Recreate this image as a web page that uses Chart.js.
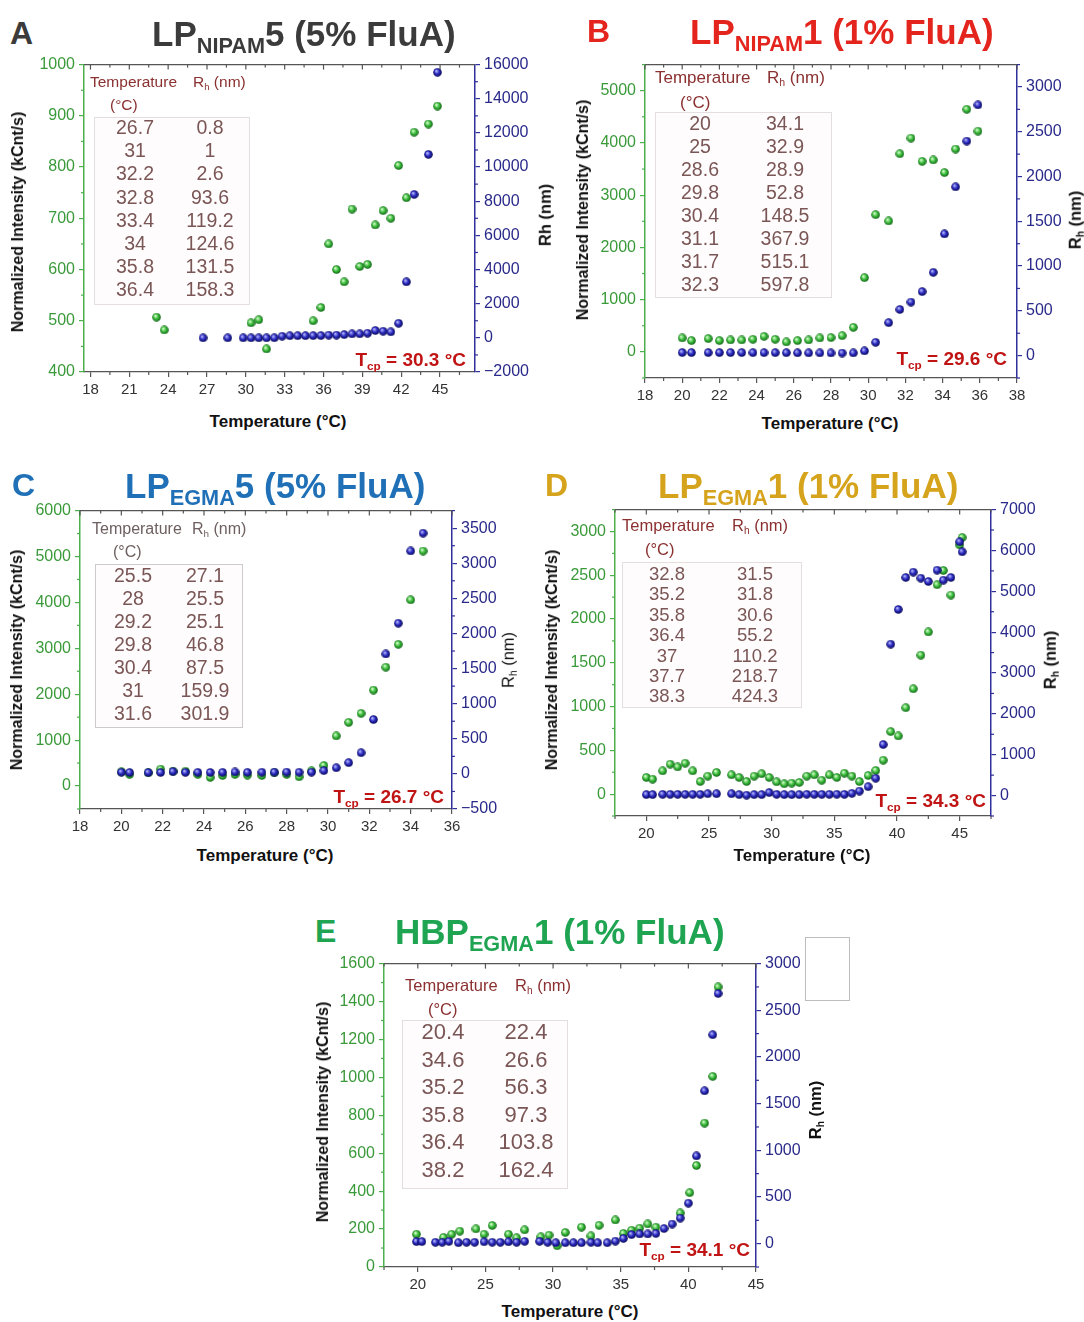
<!DOCTYPE html>
<html>
<head>
<meta charset="utf-8">
<script src="https://cdn.jsdelivr.net/npm/chart.js@4.4.1/dist/chart.umd.min.js"></script>
<style>
  body { margin: 0; background: #fff; width: 1084px; height: 1322px; position: relative; overflow: hidden;
         font-family: "Liberation Sans", Arial, sans-serif; }
  canvas { position: absolute; }
  .t { position: absolute; white-space: nowrap; line-height: 1; }
  .s { font-size: 0.62em; position: relative; top: 0.3em; }
  .tb { position: absolute; border: 1px solid #e4dede; background: #fefcfc; }
</style>
</head>
<body>
<script>
// ---- panel A : LP-NIPAM5 ----
const aTempI = [23.1, 23.7, 30.4, 31.0, 31.6, 35.2, 35.8, 36.4, 37.0, 37.6, 38.2, 38.8, 39.4, 40.0, 40.6, 41.2, 41.8, 42.4, 43.0, 44.1, 44.8];
const aInt   = [507, 482, 496, 502, 445, 500, 526, 650, 600, 576, 718, 606, 610, 687, 715, 700, 803, 740, 868, 884, 919];
const aTempR = [26.7, 28.6, 29.8, 30.4, 31.0, 31.6, 32.2, 32.8, 33.4, 34.0, 34.6, 35.2, 35.8, 36.4, 37.0, 37.6, 38.2, 38.8, 39.4, 40.0, 40.6, 41.2, 41.8, 42.4, 43.0, 44.1, 44.8];
const aRh    = [0.8, 1, 1, 1, 1, 1, 2.6, 93.6, 119.2, 124.6, 125, 128, 131.5, 158.3, 160, 190, 230, 235, 270, 427, 388, 350, 854, 3280, 8400, 10740, 15550];
const aXTicks  = [18, 21, 24, 27, 30, 33, 36, 39, 42, 45];
const aYLTicks = [400, 500, 600, 700, 800, 900, 1000];
const aYRTicks = [-2000, 0, 2000, 4000, 6000, 8000, 10000, 12000, 14000, 16000];
const aTabT = ['26.7', '31', '32.2', '32.8', '33.4', '34', '35.8', '36.4'];
const aTabR = ['0.8', '1', '2.6', '93.6', '119.2', '124.6', '131.5', '158.3'];

// ---- panel B : LP-NIPAM1 ----
const bTemp = [20, 20.5, 21.4, 22, 22.6, 23.2, 23.8, 24.4, 25, 25.6, 26.2, 26.8, 27.4, 28, 28.6, 29.2, 29.8, 30.4, 31.1, 31.7, 32.3, 32.9, 33.5, 34.1, 34.7, 35.3, 35.9];
const bInt  = [266, 216, 254, 216, 228, 228, 241, 298, 241, 190, 216, 228, 266, 273, 311, 470, 1421, 2627, 2506, 3794, 4093, 3648, 3674, 3433, 3883, 4645, 4226];
const bRh   = [34.1, 34, 34, 33.5, 33.5, 33.5, 33, 33, 32.9, 32, 31, 30, 30, 29.5, 28.9, 30, 52.8, 148.5, 367.9, 515.1, 597.8, 715, 930, 1359, 1885, 2396, 2800];
const bXTicks  = [18, 20, 22, 24, 26, 28, 30, 32, 34, 36, 38];
const bYLTicks = [0, 1000, 2000, 3000, 4000, 5000];
const bYRTicks = [0, 500, 1000, 1500, 2000, 2500, 3000];
const bTabT = ['20', '25', '28.6', '29.8', '30.4', '31.1', '31.7', '32.3'];
const bTabR = ['34.1', '32.9', '28.9', '52.8', '148.5', '367.9', '515.1', '597.8'];

// ---- panel C : LP-EGMA5 ----
const cTemp = [20, 20.4, 21.3, 21.9, 22.5, 23.1, 23.7, 24.3, 24.9, 25.5, 26.1, 26.8, 27.4, 28, 28.6, 29.2, 29.8, 30.4, 31, 31.6, 32.2, 32.8, 33.4, 34, 34.6];
const cInt  = [311, 253, 289, 369, 325, 325, 253, 188, 231, 253, 239, 231, 289, 253, 202, 333, 448, 1092, 1388, 1583, 2090, 2589, 3087, 4056, 5119];
const cRh   = [24, 19, 19, 20, 33, 22, 22, 20, 22, 27.1, 22, 24, 25, 25.5, 24, 25.1, 46.8, 87.5, 159.9, 301.9, 774, 1708, 2146, 3175, 3429];
const cXTicks  = [18, 20, 22, 24, 26, 28, 30, 32, 34, 36];
const cYLTicks = [0, 1000, 2000, 3000, 4000, 5000, 6000];
const cYRTicks = [-500, 0, 500, 1000, 1500, 2000, 2500, 3000, 3500];
const cTabT = ['25.5', '28', '29.2', '29.8', '30.4', '31', '31.6'];
const cTabR = ['27.1', '25.5', '25.1', '46.8', '87.5', '159.9', '301.9'];

// ---- panel D : LP-EGMA1 ----
const dTemp = [20, 20.5, 21.3, 21.9, 22.5, 23.1, 23.7, 24.3, 24.9, 25.6, 26.8, 27.4, 28, 28.6, 29.2, 29.8, 30.4, 31, 31.6, 32.2,
               32.8, 33.4, 34, 34.6, 35.2, 35.8, 36.4, 37, 37.7, 38.3, 38.9, 39.5, 40.1, 40.7, 41.3, 41.9, 42.5, 43.2, 43.7, 44.3, 45.0, 45.2];
const dInt  = [190, 171, 266, 342, 311, 353, 266, 144, 205, 247, 220, 190, 144, 205, 232, 190, 140, 118, 125, 133,
               205, 220, 159, 220, 190, 239, 205, 144, 213, 270, 387, 714, 664, 987, 1203, 1587, 1853, 2392, 2555, 2274, 2847, 2931];
const dRh   = [24, 24, 30, 30, 30, 30, 30, 30, 45, 45, 45, 24, 10, 24, 24, 73, 30, 24, 24, 24,
               31.5, 30, 30, 30, 31.8, 30.6, 55.2, 110.2, 218.7, 424.3, 1249, 3706, 4555, 5339, 5469, 5322, 5241, 5518, 5273, 5339, 6212, 5967];
const dXTicks  = [20, 25, 30, 35, 40, 45];
const dYLTicks = [0, 500, 1000, 1500, 2000, 2500, 3000];
const dYRTicks = [0, 1000, 2000, 3000, 4000, 5000, 6000, 7000];
const dTabT = ['32.8', '35.2', '35.8', '36.4', '37', '37.7', '38.3'];
const dTabR = ['31.5', '31.8', '30.6', '55.2', '110.2', '218.7', '424.3'];

// ---- panel E : HBP-EGMA1 ----
const eTempI = [19.9, 21.9, 22.5, 23.1, 24.3, 24.9, 25.5, 26.7, 27.3, 27.9, 29.1, 29.7, 30.3, 30.9, 32.1, 32.8, 33.4, 34.6, 35.2, 35.8,
                36.4, 37.0, 37.6, 39.4, 40.1, 40.6, 41.2, 41.8, 42.2];
const eInt   = [173, 156, 173, 189, 201, 173, 219, 173, 154, 196, 159, 168, 112, 182, 210, 164, 220, 248, 177, 194,
                205, 227, 210, 285, 392, 535, 759, 1005, 1477];
const eTempR = [19.9, 20.3, 21.3, 21.8, 22.3, 23.0, 23.6, 24.2, 24.9, 25.5, 26.1, 26.7, 27.3, 27.9, 29.0, 29.6, 30.2, 30.9, 31.5, 32.1,
                32.8, 33.3, 34.0, 34.6, 35.2, 35.8, 36.4, 37.0, 37.6, 38.2, 38.8, 39.4, 40.0, 40.6, 41.2, 41.8, 42.2];
const eRh    = [22.4, 22, 15, 15, 25, 10, 15, 15, 20, 15, 15, 20, 15, 25, 25, 15, 10, 10, 10, 10,
                15, 10, 10, 26.6, 56.3, 97.3, 103.8, 104, 110, 162.4, 210, 274, 434, 940, 1637, 2238, 2680];
const eXTicks  = [20, 25, 30, 35, 40, 45];
const eYLTicks = [0, 200, 400, 600, 800, 1000, 1200, 1400, 1600];
const eYRTicks = [0, 500, 1000, 1500, 2000, 2500, 3000];
const eTabT = ['20.4', '34.6', '35.2', '35.8', '36.4', '38.2'];
const eTabR = ['22.4', '26.6', '56.3', '97.3', '103.8', '162.4'];

const FF = '"Liberation Sans", Arial, sans-serif';
const GREEN_AX = '#4caf4c', GREEN_LAB = '#3a9a3a';
const NAVY_AX = '#30309c', NAVY_LAB = '#29298a';
const LW = 70, RW = 75, PT = 12, XH = 32;

function ball(c0, c1, c2) {
  const cv = document.createElement('canvas');
  cv.width = cv.height = 9;
  const g = cv.getContext('2d');
  const gr = g.createRadialGradient(3.2, 3.0, 0.3, 4.5, 4.5, 4.6);
  gr.addColorStop(0, c0); gr.addColorStop(0.5, c1); gr.addColorStop(1, c2);
  g.fillStyle = gr;
  g.beginPath(); g.arc(4.5, 4.5, 4.3, 0, Math.PI * 2); g.fill();
  return cv;
}
const greenBall = ball('#dcffd2', '#3dbd3d', '#0a5a10');
const blueBall = ball('#babaff', '#2a2ac0', '#06064d');

const fmt = v => String(v).replace('-', '\u2212');

// top frame line + minor ticks
const frame = {
  id: 'frame',
  afterDraw(ch) {
    const c = ch.ctx, a = ch.chartArea, sc = ch.scales;
    const seg = (x1, y1, x2, y2) => { c.beginPath(); c.moveTo(x1, y1); c.lineTo(x2, y2); c.stroke(); };
    const mids = s => {
      const v = s.ticks.map(t => t.value), st = v[1] - v[0], out = [];
      for (let i = -2; i < 80; i++) {
        const k = v[0] + i * st / 2;
        if (k < s.min - 1e-6 || k > s.max + 1e-6) continue;
        out.push([k, i % 2 === 0]);
      }
      return out;
    };
    c.save();
    c.lineWidth = 1.2;
    c.strokeStyle = '#555';
    seg(a.left, a.top, a.right, a.top);
    mids(sc.x).forEach(([v, major]) => {
      const p = sc.x.getPixelForValue(v);
      seg(p, a.top, p, a.top + (major ? 5 : 3));
      if (!major) seg(p, a.bottom, p, a.bottom + 3);
    });
    c.strokeStyle = GREEN_AX;
    mids(sc.yL).forEach(([v, major]) => {
      if (major) return;
      const p = sc.yL.getPixelForValue(v);
      seg(a.left, p, a.left - 3, p);
    });
    c.strokeStyle = NAVY_AX;
    mids(sc.yR).forEach(([v, major]) => {
      if (major) return;
      const p = sc.yR.getPixelForValue(v);
      seg(a.right, p, a.right + 3, p);
    });
    c.restore();
  }
};

function yScale(pos, min, max, ticks, col, lab, w) {
  return {
    type: 'linear', position: pos, min: min, max: max,
    afterBuildTicks: s => { s.ticks = ticks.map(v => ({ value: v })); },
    afterFit: s => { s.width = w; },
    ticks: { color: lab, font: { size: 16, family: FF }, padding: 4, autoSkip: false, callback: fmt },
    grid: { drawOnChartArea: false, tickLength: 5, color: col, lineWidth: 1.2 },
    border: { color: col, width: 1.5 }
  };
}

function makeChart(o) {
  const [l, t, r, b] = o.rect;
  const cv = document.createElement('canvas');
  cv.width = r - l + LW + RW;
  cv.height = b - t + PT + XH;
  cv.style.left = (l - LW) + 'px';
  cv.style.top = (t - PT) + 'px';
  document.body.appendChild(cv);
  new Chart(cv, {
    type: 'scatter',
    data: {
      datasets: [
        { data: o.tR.map((x, i) => ({ x: x, y: o.rh[i] })), yAxisID: 'yR', pointStyle: blueBall, pointRadius: 4.5, order: 0 },
        { data: o.tI.map((x, i) => ({ x: x, y: o.iv[i] })), yAxisID: 'yL', pointStyle: greenBall, pointRadius: 4.5, order: 1 }
      ]
    },
    options: {
      responsive: false, animation: false, devicePixelRatio: 1,
      layout: { padding: { top: PT, left: 0, right: 0, bottom: 0 } },
      plugins: { legend: { display: false }, tooltip: { enabled: false } },
      scales: {
        x: {
          type: 'linear', position: 'bottom', min: o.x[0], max: o.x[1],
          afterBuildTicks: s => { s.ticks = o.xt.map(v => ({ value: v })); },
          afterFit: s => { s.height = XH; },
          ticks: { color: '#333', font: { size: 15, family: FF }, padding: 4, autoSkip: false, maxRotation: 0 },
          grid: { drawOnChartArea: false, tickLength: 5, color: '#555', lineWidth: 1.2 },
          border: { color: '#555', width: 1.2 }
        },
        yL: yScale('left', o.yl[0], o.yl[1], o.ylt, GREEN_AX, GREEN_LAB, LW),
        yR: yScale('right', o.yr[0], o.yr[1], o.yrt, NAVY_AX, NAVY_LAB, RW)
      }
    },
    plugins: [frame]
  });
}

function put(html, x, y, css, align) {
  const d = document.createElement('div');
  d.className = 't';
  d.innerHTML = html;
  d.style.cssText = css + ';left:' + x + 'px;top:' + y + 'px';
  const tx = align === 'c' ? '-50%' : align === 'r' ? '-100%' : '0';
  d.style.transform = 'translate(' + tx + ',-50%)';
  document.body.appendChild(d);
  return d;
}
function vput(html, x, y, css) {
  const d = put(html, x, y, css, 'c');
  d.style.transform = 'translate(-50%,-50%) rotate(-90deg)';
  return d;
}
function box(l, t, w, h, css) {
  const d = document.createElement('div');
  d.className = 'tb';
  d.style.cssText = 'left:' + l + 'px;top:' + t + 'px;width:' + w + 'px;height:' + h + 'px;' + (css || '');
  document.body.appendChild(d);
}

function decorate(p) {
  put(p.letter, p.lx, p.ty, 'font-weight:bold;font-size:32px;color:' + p.col);
  put(p.title, p.tx, p.ty, 'font-weight:bold;font-size:35px;color:' + p.col);
  vput('Normalized Intensity (kCnt/s)', p.yt[0], p.yt[1], 'font-weight:bold;font-size:16px;color:#111');
  vput(p.rlab, p.rt[0], p.rt[1], 'font-weight:' + (p.rbold ? 'bold' : 'normal') + ';font-size:16.5px;color:#111');
  put('Temperature (°C)', p.xt[0], p.xt[1], 'font-weight:bold;font-size:17px;color:#111', 'c');
  put('T<span class=s>cp</span> = ' + p.tcp + ' °C', p.tc[0], p.tc[1], 'font-weight:bold;font-size:19px;color:#c01414', 'r');
  // inset table
  const tb = p.tab;
  box(tb.box[0], tb.box[1], tb.box[2], tb.box[3], tb.bcss);
  const hc = 'font-size:' + tb.hs + 'px;color:' + tb.hcol;
  put('Temperature', tb.h[0], tb.h[1], hc);
  put('R<span class=s>h</span> (nm)', tb.h[2], tb.h[1], hc);
  put('(°C)', tb.u[0], tb.u[1], hc);
  const rc = 'font-size:' + tb.fs + 'px;color:#7b5656';
  tb.T.forEach((v, i) => {
    const y = tb.y0 + i * tb.dy;
    put(v, tb.c[0], y, rc, 'c');
    put(tb.R[i], tb.c[1], y, rc, 'c');
  });
}

// ---- A ----
makeChart({ rect: [84, 63, 475, 372], x: [17.5, 47.7], xt: aXTicks, yl: [400, 1000], ylt: aYLTicks, yr: [-2000, 16000], yrt: aYRTicks,
            tI: aTempI, iv: aInt, tR: aTempR, rh: aRh });
decorate({ letter: 'A', lx: 10, title: 'LP<span class=s>NIPAM</span>5 (5% FluA)', tx: 152, ty: 33, col: '#3b3b3b',
           yt: [18, 222], rlab: 'Rh (nm)', rt: [545, 215], rbold: true, xt: [278, 421], tcp: '30.3', tc: [466, 359],
           tab: { box: [94, 117, 154, 186], h: [90, 82, 193], u: [110, 105], hs: 15.5, hcol: '#8b3030', fs: 19.5,
                  c: [135, 210], y0: 128, dy: 23.2, T: aTabT, R: aTabR } });

// ---- B ----
makeChart({ rect: [645, 63, 1017, 378], x: [18, 38], xt: bXTicks, yl: [-500, 5500], ylt: bYLTicks, yr: [-250, 3250], yrt: bYRTicks,
            tI: bTemp, iv: bInt, tR: bTemp, rh: bRh });
decorate({ letter: 'B', lx: 587, title: 'LP<span class=s>NIPAM</span>1 (1% FluA)', tx: 690, ty: 31, col: '#e4251e',
           yt: [583, 210], rlab: 'R<span class=s>h</span> (nm)', rt: [1075, 220], rbold: true, xt: [830, 423], tcp: '29.6', tc: [1007, 358],
           tab: { box: [655, 112, 175, 184], h: [655, 77, 767], u: [680, 102], hs: 17, hcol: '#8b3030', fs: 19.5,
                  c: [700, 785], y0: 124, dy: 23, T: bTabT, R: bTabR } });

// ---- C ----
makeChart({ rect: [80, 509, 452, 809], x: [18, 36], xt: cXTicks, yl: [-500, 6000], ylt: cYLTicks, yr: [-500, 3750], yrt: cYRTicks,
            tI: cTemp, iv: cInt, tR: cTemp, rh: cRh });
decorate({ letter: 'C', lx: 12, title: 'LP<span class=s>EGMA</span>5 (5% FluA)', tx: 125, ty: 485, col: '#1f70b6',
           yt: [17, 660], rlab: 'R<span class=s>h</span> (nm)', rt: [508, 660], rbold: false, xt: [265, 855], tcp: '26.7', tc: [444, 796],
           tab: { box: [95, 564, 146, 162], bcss: 'border-color:#cfcaca', h: [92, 529, 192], u: [113, 552], hs: 16, hcol: '#6e6060', fs: 19.5,
                  c: [133, 205], y0: 576, dy: 23, T: cTabT, R: cTabR } });

// ---- D ----
makeChart({ rect: [615, 508, 991, 816], x: [17.5, 47.5], xt: dXTicks, yl: [-250, 3250], ylt: dYLTicks, yr: [-500, 7000], yrt: dYRTicks,
            tI: dTemp, iv: dInt, tR: dTemp, rh: dRh });
decorate({ letter: 'D', lx: 545, title: 'LP<span class=s>EGMA</span>1 (1% FluA)', tx: 658, ty: 485, col: '#d6a31c',
           yt: [552, 660], rlab: 'R<span class=s>h</span> (nm)', rt: [1050, 660], rbold: true, xt: [802, 855], tcp: '34.3', tc: [986, 800],
           tab: { box: [622, 562, 178, 144], h: [622, 525, 732], u: [645, 549], hs: 16.5, hcol: '#8b3030', fs: 18.5,
                  c: [667, 755], y0: 574, dy: 20.4, T: dTabT, R: dTabR } });

// ---- E ----
makeChart({ rect: [384, 962, 756, 1267], x: [17.5, 45], xt: eXTicks, yl: [0, 1600], ylt: eYLTicks, yr: [-250, 3000], yrt: eYRTicks,
            tI: eTempI, iv: eInt, tR: eTempR, rh: eRh });
decorate({ letter: 'E', lx: 315, title: 'HBP<span class=s>EGMA</span>1 (1% FluA)', tx: 395, ty: 931, col: '#1fa552',
           yt: [323, 1112], rlab: 'R<span class=s>h</span> (nm)', rt: [815, 1110], rbold: true, xt: [570, 1311], tcp: '34.1', tc: [750, 1249],
           tab: { box: [402, 1020, 164, 167], h: [405, 985, 515], u: [428, 1009], hs: 16.5, hcol: '#8b3030', fs: 22,
                  c: [443, 526], y0: 1032, dy: 27.6, T: eTabT, R: eTabR } });
box(805, 937, 43, 62, 'border-color:#bdbdbd;background:#fff');
</script>
</body>
</html>
